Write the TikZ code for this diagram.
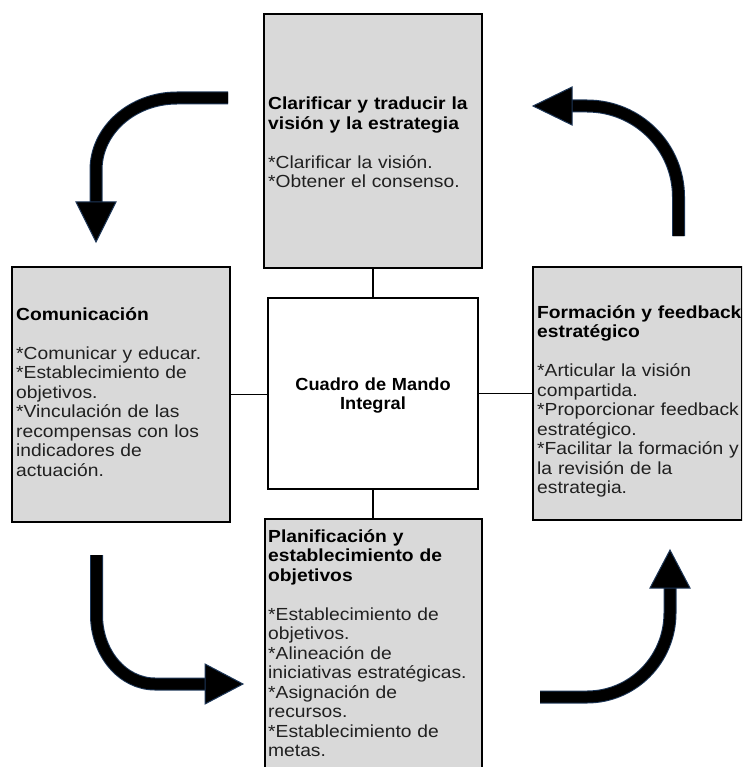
\documentclass[tikz,border=0pt]{standalone}
\usepackage{fontspec}
\setmainfont{Liberation Sans}[FakeStretch=1.1]
\newfontfamily\centerfont{Liberation Sans}[FakeStretch=1.04]
\definecolor{boxgray}{RGB}{217,217,217}
\definecolor{arrowedge}{RGB}{30,55,88}
\definecolor{bodytext}{RGB}{32,32,32}
\newcommand\ttl[1]{\textcolor{black}{\bfseries #1}}
\tikzset{
  panel/.style={draw=black, line width=2pt, fill=boxgray, inner sep=0pt},
  corebox/.style={draw=black, line width=2pt, fill=white, inner sep=0pt},
  conn/.style={draw=black, line width=1.6pt},
  paneltext/.style={anchor=base west, inner sep=0pt, text width=240pt, align=left,
    text=bodytext, font=\fontsize{17.5}{19.5}\selectfont},
  shaftouter/.style={draw=arrowedge, line width=13pt},
  shaftinner/.style={draw=black, line width=11pt},
  headtip/.style={fill=black, draw=arrowedge, line width=1pt, line join=miter}
}
\begin{document}
\begin{tikzpicture}[x=1pt,y=-1pt]
\useasboundingbox (0,0) rectangle (742,767);
\clip (0,0) rectangle (742,767);

% boxes
\node[panel, minimum width=218pt, minimum height=254pt] (top) at (373,141) {};
\node[panel, minimum width=218pt, minimum height=255pt] (left) at (121,394.5) {};
\node[panel, minimum width=209pt, minimum height=253pt] (right) at (637.5,393.5) {};
\node[panel, minimum width=217pt, minimum height=261pt] (bottom) at (373.5,649.5) {};
\node[corebox, minimum width=210pt, minimum height=191pt] (core) at (373,393.5) {};

% connectors
\draw[conn] (top.south) -- (top.south |- core.north);
\draw[conn] (core.south) -- (core.south |- bottom.north);
\draw[conn] (left.east) -- (left.east -| core.west);
\draw[conn] (core.east) -- (core.east -| right.west);

% texts
\node[paneltext] (toptext) at (268,110)
  {\ttl{Clarificar y traducir la}\\\ttl{visión y la estrategia}\\[19.5pt]
   {}*Clarificar la visión.\\{}*Obtener el consenso.};
\node[paneltext] (lefttext) at (16,320)
  {\ttl{Comunicación}\\[19.5pt]
   {}*Comunicar y educar.\\{}*Establecimiento de\\objetivos.\\{}*Vinculación de las\\recompensas con los\\indicadores de\\actuación.};
\node[paneltext] (righttext) at (537,318)
  {\ttl{Formación y feedback}\\\ttl{estratégico}\\[19.5pt]
   {}*Articular la visión\\compartida.\\{}*Proporcionar feedback\\estratégico.\\{}*Facilitar la formación y\\la revisión de la\\estrategia.};
\node[paneltext] (bottomtext) at (268,542)
  {\ttl{Planificación y}\\\ttl{establecimiento de}\\\ttl{objetivos}\\[19.5pt]
   {}*Establecimiento de\\objetivos.\\{}*Alineación de\\iniciativas estratégicas.\\{}*Asignación de\\recursos.\\{}*Establecimiento de\\metas.};
\node[anchor=base, inner sep=0pt, text width=200pt, align=center,
      font=\centerfont\bfseries\fontsize{17.5}{19.5}\selectfont] (coretext) at (373,390)
  {Cuadro de Mando\\Integral};

% curved arrows
% top-left (down)
\draw[shaftouter] (228,98) -- (177,98) .. controls (132.3,98) and (96,130.2) .. (96,170) -- (96,205);
\draw[shaftinner] (228,98) -- (177,98) .. controls (132.3,98) and (96,130.2) .. (96,170) -- (96,205);
\filldraw[headtip] (76,202) -- (116,202) -- (96,242) -- cycle;
% top-right (left)
\draw[shaftouter] (678.5,236) -- (678.5,197) .. controls (678.5,146.7) and (637.5,106) .. (587,106) -- (569,106);
\draw[shaftinner] (678.5,236) -- (678.5,197) .. controls (678.5,146.7) and (637.5,106) .. (587,106) -- (569,106);
\filldraw[headtip] (572,87) -- (572,125) -- (533,106) -- cycle;
% bottom-left (right)
\draw[shaftouter] (96.5,555) -- (96.5,615) .. controls (96.5,653.1) and (122.7,684) .. (155,684) -- (208,684);
\draw[shaftinner] (96.5,555) -- (96.5,615) .. controls (96.5,653.1) and (122.7,684) .. (155,684) -- (208,684);
\filldraw[headtip] (205,664) -- (205,704) -- (243,684) -- cycle;
% bottom-right (up)
\draw[shaftouter] (540,697) -- (587,697) .. controls (632.8,697) and (670,659.4) .. (670,613) -- (670,585);
\draw[shaftinner] (540,697) -- (587,697) .. controls (632.8,697) and (670,659.4) .. (670,613) -- (670,585);
\filldraw[headtip] (650,588) -- (690,588) -- (670,550) -- cycle;
\end{tikzpicture}
\end{document}
